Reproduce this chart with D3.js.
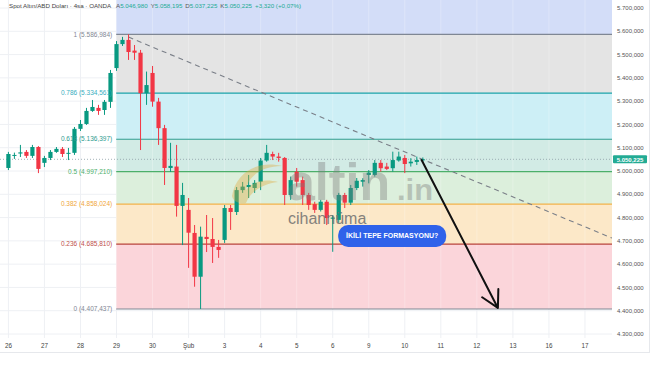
<!DOCTYPE html>
<html><head><meta charset="utf-8">
<script src="https://cdn.jsdelivr.net/npm/d3@7"></script>
<style>
body{margin:0;background:#fff}
svg{display:block;font-family:"Liberation Sans",Arial,sans-serif}
</style>
</head><body>
<svg id="c" width="654" height="366"></svg>
<script>
// ---------------- DATA ----------------
const dayLabels = ["26","27","28","29","30","Şub","3","4","5","6","9","10","11","12","13","16","17"];
const dayStartIndex = [0,6,12,18,24,30,36,42,48,54,60,66,72,78,84,90,96];

const opens = [5013,5065,5075,5082,5065,5103, 5035,5056,5082,5095,5076,5078,
 5181,5202,5258,5271,5262,5297, 5442,5545,5563,5517,5508,5334,
 5421,5298,5184,5013,5019,4850, 4833,4734,4546,4717,4708,4674,
 4704,4841,4824,4918,4931,4927, 4954,5045,5073,5062,5056,4897,
 4997,4961,4897,4858,4833,4868, 4795,4790,4897,4864,4927,4954,
 4983,4983,5035,5019,5012,5045, 5056,5033,5039,5046.98];
const highs = [5082,5079,5112,5090,5112,5107, 5065,5090,5103,5103,5099,5189,
 5219,5271,5305,5284,5305,5434, 5558,5576,5586.984,5541,5520,5427,
 5451,5314,5198,5121,5112,4949, 4884,4768,4761,4811,4798,4704,
 4854,4854,4931,4953,4983,4961, 5056,5112,5083,5078,5060,4976,
 5013,4976,4906,4868,4876,4876, 4811,4906,4906,4940,4970,4969,
 5004,5047,5047,5035,5083,5083, 5069,5055,5062,5058.195];
const lows = [5004,5052,5060,5056,5056,4991, 5017,5047,5078,5060,5047,5069,
 5172,5198,5254,5241,5241,5271, 5430,5537,5477,5477,5090,5284,
 5276,5112,4940,4996,4804,4682, 4584,4503,4407.437,4652,4605,4627,
 4691,4747,4811,4906,4884,4906, 4918,5040,5047,5040,4854,4876,
 4933,4854,4833,4820,4826,4768, 4653,4777,4841,4854,4918,4933,
 4947,4976,4997,5004,4997,5040, 4991,5019,5026,5037.225];
const closes = [5073,5069,5080,5065,5103,5009, 5056,5082,5095,5073,5078,5181,
 5202,5258,5275,5258,5297,5421, 5545,5563,5511,5508,5334,5369,
 5298,5184,5013,5022,4850,4897, 4735,4546,4718,4708,4674,4661,
 4841,4824,4918,4933,4940,4949, 5045,5078,5062,5056,4897,4961,
 4954,4897,4854,4833,4868,4798, 4800,4897,4864,4927,4958,4961,
 4993,5035,5012,5009,5047,5062, 5030,5040,5047,5050.225];

const yTicks = [4300,4400,4500,4600,4700,4800,4900,5000,5100,5200,5300,5400,5500,5600,5700];

const fibLevels = ["1","0.786","0.618","0.5","0.382","0.236","0"];
const fibPrices = [5586.984,5334.561,5136.397,4997.210,4858.024,4685.810,4407.437];
const fibStartIndex = 17.95;

const lastPrice = 5050.225;
const headerTitle = "Spot Altın/ABD Doları · 4sa · OANDA";
const headerKeys = ["A","Y","D","K"];
const headerVals = ["5.046,980","5.058,195","5.037,225","5.050,225"];
const headerChange = "+3,320 (+0,07%)";

const trendIdx = [20, 100.5];
const trendPrice = [5575, 4712];
const arrowIdx = [68.8, 81.5];
const arrowPrice = [5047, 4412];
const noteText = "İKİLİ TEPE FORMASYONU?";
const noteIdx = 63.9, notePrice = 4721;

// ---------------- STYLE ----------------
const bandColors = ["#d3ddf8","#e4e4e4","#cdeff6","#d2ebe5","#dcefdc","#fce8c8","#fbd5da"];
const lineColors = ["#7f8794","#1aa3aa","#2f9c8f","#4caf6a","#f2b24a","#b8433b","#7f8794"];
const labelColors = ["#7f8794","#3aaec0","#2f9c8f","#4caf6a","#f0a73a","#c0504a","#7f8794"];
const UP = "#089981", DOWN = "#f23645";

// ---------------- LAYOUT ----------------
const plotRight = 612, plotBottom = 338;
const svg = d3.select("#c");
const x = d3.scaleLinear().domain([0, 100]).range([8.4, 8.4 + 600.6]);
const y = d3.scaleLinear().domain([4300, 5700]).range([334, 8]);
const fmt = d3.formatLocale({decimal:",", thousands:".", grouping:[3], currency:["",""]}).format(",.3f");

svg.append("defs").append("clipPath").attr("id","plot")
  .append("rect").attr("x",0).attr("y",0).attr("width",plotRight).attr("height",plotBottom);
const plot = svg.append("g").attr("clip-path","url(#plot)");

// grid
plot.selectAll(".vg").data(dayStartIndex).join("line")
  .attr("x1",d=>x(d)).attr("x2",d=>x(d)).attr("y1",0).attr("y2",plotBottom)
  .attr("stroke","#eef0f4").attr("stroke-width",1);
plot.selectAll(".hg").data(yTicks).join("line")
  .attr("x1",0).attr("x2",plotRight).attr("y1",d=>y(d)).attr("y2",d=>y(d))
  .attr("stroke","#eef0f4").attr("stroke-width",1);

// fib bands
const x0 = x(fibStartIndex);
const bandTops = [0].concat(fibPrices.slice(0,-1).map(p=>y(p)));
const bandBots = fibPrices.map(p=>y(p));
plot.selectAll(".band").data(bandColors).join("rect")
  .attr("x",x0).attr("width",plotRight-x0)
  .attr("y",(d,i)=>bandTops[i]).attr("height",(d,i)=>bandBots[i]-bandTops[i])
  .attr("fill",d=>d);
plot.selectAll(".vg2").data(dayStartIndex.filter(d=>x(d)>x0)).join("line")
  .attr("x1",d=>x(d)).attr("x2",d=>x(d)).attr("y1",0).attr("y2",y(fibPrices[6]))
  .attr("stroke","#ffffff").attr("stroke-opacity",0.25);

// fib lines
plot.selectAll(".fl").data(fibPrices).join("line")
  .attr("x1",x0).attr("x2",plotRight).attr("y1",d=>y(d)).attr("y2",d=>y(d))
  .attr("stroke",(d,i)=>lineColors[i]).attr("stroke-width",1.2);

// fib labels
svg.selectAll(".flab").data(fibPrices).join("text")
  .attr("x",x0-4).attr("y",d=>y(d)+2.2).attr("text-anchor","end")
  .attr("font-size",6.5).attr("fill",(d,i)=>labelColors[i])
  .text((d,i)=>fibLevels[i]+" ("+fmt(d)+")");

// current price dotted line
plot.append("line").attr("x1",0).attr("x2",plotRight)
  .attr("y1",y(lastPrice)).attr("y2",y(lastPrice))
  .attr("stroke","#8fa0a8").attr("stroke-width",1).attr("stroke-dasharray","1,2").attr("opacity",0.8);

// trend line
plot.append("line")
  .attr("x1",x(trendIdx[0])).attr("y1",y(trendPrice[0]))
  .attr("x2",x(trendIdx[1])).attr("y2",y(trendPrice[1]))
  .attr("stroke","#7a7f88").attr("stroke-width",1.1).attr("stroke-dasharray","5,4");

// candles
const idx = d3.range(opens.length);
const cg = plot.append("g");
cg.selectAll(".wick").data(idx).join("line")
  .attr("x1",i=>x(i)).attr("x2",i=>x(i))
  .attr("y1",i=>y(highs[i])).attr("y2",i=>y(lows[i]))
  .attr("stroke",i=>closes[i]>=opens[i]?UP:DOWN).attr("stroke-width",1);
cg.selectAll(".body").data(idx).join("rect")
  .attr("x",i=>x(i)-2.1).attr("width",4.2)
  .attr("y",i=>y(Math.max(opens[i],closes[i])))
  .attr("height",i=>Math.max(1,Math.abs(y(opens[i])-y(closes[i]))))
  .attr("fill",i=>closes[i]>=opens[i]?UP:DOWN);

// watermark
const wm = svg.append("g").attr("opacity",0.38);
wm.append("path")
  .attr("d","M232,196 C236,172 258,160 282,166 C262,166 248,176 246,190 C252,182 264,178 278,182 C262,184 250,192 246,203 C240,204 233,202 232,196 Z")
  .attr("fill","#e0a93a");
wm.append("text").attr("x",287).attr("y",200).attr("font-size",52).attr("font-weight",700)
  .attr("textLength",103).attr("lengthAdjust","spacingAndGlyphs")
  .attr("fill","#7a7a7a").text("altin");
wm.append("text").attr("x",397).attr("y",200).attr("font-size",30).attr("font-weight",700)
  .attr("textLength",36).attr("lengthAdjust","spacingAndGlyphs")
  .attr("fill","#7a7a7a").text(".in");
svg.append("text").attr("x",288).attr("y",224).attr("font-size",16)
  .attr("fill","#707070").attr("opacity",0.85).text("cihannüma");

// arrow
const ax1=x(arrowIdx[0]), ay1=y(arrowPrice[0]), ax2=x(arrowIdx[1]), ay2=y(arrowPrice[1]);
const ang = Math.atan2(ay2-ay1, ax2-ax1), hl = 19, ha = 0.5;
plot.append("path")
  .attr("d",`M${ax1},${ay1}L${ax2},${ay2}M${ax2-hl*Math.cos(ang-ha)},${ay2-hl*Math.sin(ang-ha)}L${ax2},${ay2}L${ax2-hl*Math.cos(ang+ha)},${ay2-hl*Math.sin(ang+ha)}`)
  .attr("fill","none").attr("stroke","#111").attr("stroke-width",2).attr("stroke-linecap","round").attr("stroke-linejoin","round");

// note label
const nx = x(noteIdx), ny = y(notePrice);
svg.append("rect").attr("x",nx-54).attr("y",ny-11).attr("width",108).attr("height",22)
  .attr("rx",10).attr("fill","#2f62ea");
svg.append("text").attr("x",nx).attr("y",ny+2.5).attr("text-anchor","middle")
  .attr("font-size",7).attr("font-weight",700).attr("fill","#fff").text(noteText);

// y axis labels
svg.selectAll(".yl").data(yTicks).join("text")
  .attr("x",617).attr("y",d=>y(d)+2.2).attr("font-size",6).attr("fill","#555")
  .text(d=>fmt(d));
// price tag
svg.append("rect").attr("x",613).attr("y",y(lastPrice)-4).attr("width",34).attr("height",8)
  .attr("fill","#22ab94").attr("rx",1);
svg.append("text").attr("x",630).attr("y",y(lastPrice)+2.2).attr("text-anchor","middle")
  .attr("font-size",6).attr("font-weight",700).attr("fill","#fff").text(fmt(lastPrice));

// x axis labels
svg.selectAll(".xl").data(dayStartIndex).join("text")
  .attr("x",d=>x(d)).attr("y",348).attr("text-anchor","middle")
  .attr("font-size",6.3).attr("fill","#444")
  .text((d,i)=>dayLabels[i]);

// frame
svg.append("line").attr("x1",0).attr("x2",650).attr("y1",352.5).attr("y2",352.5).attr("stroke","#e6e8ec");
svg.append("line").attr("x1",649.5).attr("x2",649.5).attr("y1",0).attr("y2",352.5).attr("stroke","#e6e8ec");

// header
const ht = svg.append("text").attr("x",9).attr("y",7.5).attr("font-size",6.2);
ht.append("tspan").attr("fill","#444").text(headerTitle);
const hv = svg.append("text").attr("x",116).attr("y",7.5).attr("font-size",6.2);
headerKeys.forEach((k,i)=>{
  hv.append("tspan").attr("fill","#555").attr("dx",i?3:0).text(k);
  hv.append("tspan").attr("fill","#22ab94").text(headerVals[i]);
});
hv.append("tspan").attr("fill","#22ab94").attr("dx",3).text(headerChange);
</script>
</body></html>
